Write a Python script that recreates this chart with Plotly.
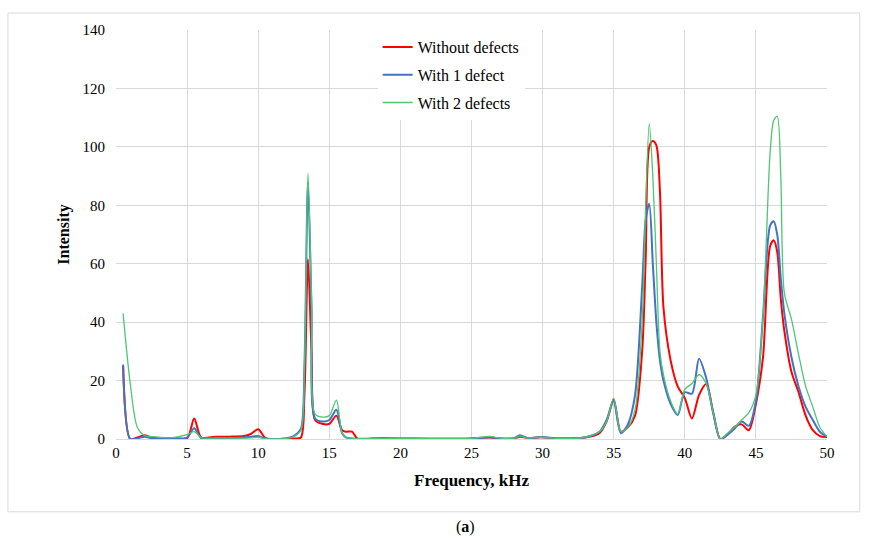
import plotly.graph_objects as go

freq = [0.5, 1.0, 1.5, 2.0, 2.5, 3, 4, 5, 5.5, 6, 7, 8, 9, 9.5, 10, 10.5, 11, 12, 12.5, 13,
        13.25, 13.5, 13.75, 14, 14.5, 15, 15.5, 15.9, 16.2, 16.6, 17, 18, 20, 22, 24, 25,
        26.3, 27, 28, 28.4, 29, 29.9, 31, 32, 33, 34, 34.5, 35, 35.5, 36, 36.5, 37, 37.25,
        37.5, 37.75, 38, 38.25, 38.5, 39, 39.5, 40, 40.5, 41, 41.5, 42, 42.5, 43, 43.5, 44,
        44.5, 45, 45.5, 46, 46.25, 46.5, 46.75, 47, 47.5, 48, 48.5, 49, 49.5, 50]

without_defects = [25, 0, 0.5, 1.3, 0.5, 0.3, 0.3, 0.3, 7, 0.5, 0.8, 0.8, 1.0, 1.8, 3.3, 0.3, 0, 0.1, 0.2, 0.5,
                   15, 61.5, 30, 6.5, 5.2, 5.2, 8, 3, 2.5, 2.5, 0, 0.2, 0.2, 0.1, 0.1, 0.2,
                   0.5, 0.2, 0.2, 0.8, 0.3, 0.6, 0.2, 0.2, 0.5, 2, 6, 13.5, 2.5, 4, 8, 30, 62,
                   100, 102, 100.5, 85, 45, 27, 18, 14, 7, 15, 18.8, 9, 0, 1.5, 4.2, 5,
                   3, 12, 28, 66, 68, 64, 48, 37, 23, 16, 8, 3, 1, 0.7]

with_1_defect = [25.5, 0, 0.2, 0.8, 0.3, 0.2, 0.2, 0.5, 3.7, 0.3, 0.2, 0.3, 0.5, 0.8, 1.0, 0.2, 0, 0.3, 1, 3.5,
                 25, 88, 45, 7, 6, 6.5, 10, 2, 0.5, 0.2, 0.1, 0.1, 0.1, 0.1, 0.1, 0.1,
                 0.6, 0.2, 0.3, 1.3, 0.3, 0.7, 0.2, 0.2, 0.6, 2.5, 6.5, 13, 2, 5, 15, 52, 75,
                 80.5, 60, 40, 27, 20, 12, 8.2, 16, 15.5, 27.5, 21, 9, 0, 1.5, 3.5, 6,
                 4.5, 13, 42, 73, 74.5, 70, 55, 43, 28, 18, 11, 6.5, 2.5, 0.8]

with_2_defects = [43, 19, 4, 1.2, 0.8, 0.6, 0.5, 1.5, 2.5, 0.5, 0.3, 0.3, 0.3, 0.4, 0.6, 0.1, 0, 0.2, 0.8, 3,
                  25, 91, 48, 8.5, 7.5, 8, 13.3, 2, 0.5, 0.2, 0.1, 0.1, 0.1, 0.1, 0.1, 0.2,
                  0.9, 0.3, 0.3, 1.0, 0.3, 0.6, 0.2, 0.2, 0.6, 2.5, 6, 14, 2.5, 4, 10, 40, 80,
                  108, 90, 60, 30, 22, 13, 8.5, 17, 19, 22, 19, 9, 0, 2, 4, 6.5,
                  9, 15, 42, 98, 109, 110.5, 90, 50, 41, 29, 18, 11, 4, 0.8]

series_names = ["Without defects", "With 1 defect", "With 2 defects"]
series_values = [without_defects, with_1_defect, with_2_defects]
series_colors = ["#FF0000", "#4472C4", "#4CC774"]
series_widths = [2, 2, 1.3]

x_ticks = [0, 5, 10, 15, 20, 25, 30, 35, 40, 45, 50]
y_ticks = [0, 20, 40, 60, 80, 100, 120, 140]

serif = "Liberation Serif"

fig = go.Figure()
for i, (name, vals, col, w) in enumerate(zip(series_names, series_values, series_colors, series_widths)):
    fig.add_trace(go.Scatter(
        x=freq, y=vals, name=name, mode="lines",
        line=dict(color=col, width=w, shape="spline", smoothing=0.8),
        legendgroup=f"g{i}",
    ))

grid = "#D9D9D9"
fig.update_layout(
    width=875, height=541,
    margin=dict(l=116, r=48, t=30, b=102),
    paper_bgcolor="white", plot_bgcolor="white",
    font=dict(family=serif, size=14, color="#000000"),
    showlegend=True,
    legend=dict(
        x=0.368, y=1.0, xanchor="left", yanchor="top",
        bgcolor="white", borderwidth=0,
        font=dict(family=serif, size=16, color="#000000"),
        tracegroupgap=4,
    ),
    xaxis=dict(
        range=[0, 50], tickvals=x_ticks, ticktext=[str(v) for v in x_ticks],
        showgrid=True, gridcolor=grid, gridwidth=1,
        zeroline=False, showline=True, linecolor=grid, linewidth=1,
        ticks="", tickfont=dict(family=serif, size=15, color="#000"),
        title=dict(text="<b>Frequency, kHz</b>", font=dict(family=serif, size=17, color="#000"), standoff=14),
    ),
    yaxis=dict(
        range=[0, 140], tickvals=y_ticks, ticktext=[str(v) for v in y_ticks],
        showgrid=True, gridcolor=grid, gridwidth=1,
        zeroline=False, showline=False,
        ticks="", ticklabelstandoff=10, tickfont=dict(family=serif, size=15, color="#000"),
        title=dict(text="<b>Intensity</b>", font=dict(family=serif, size=16, color="#000"), standoff=8),
    ),
    shapes=[dict(type="rect", xref="paper", yref="paper",
                 x0=-0.152, x1=1.046, y0=-0.178, y1=1.0416,
                 line=dict(color="#D9D9D9", width=1), fillcolor="rgba(0,0,0,0)", layer="below")],
    annotations=[dict(text="(<b>a</b>)", xref="paper", yref="paper", x=0.491, y=-0.215,
                      xanchor="center", yanchor="middle", showarrow=False,
                      font=dict(family=serif, size=16, color="#000"))],
)

fig.write_html("out.html")
